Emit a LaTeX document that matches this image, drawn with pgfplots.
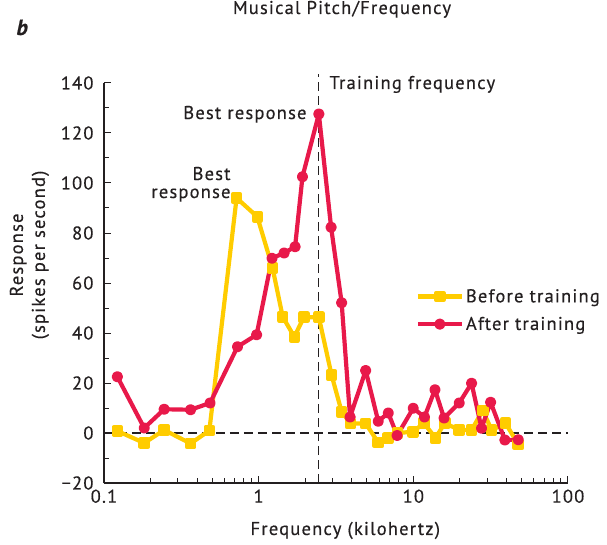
\documentclass[border=0pt]{standalone}
\usepackage{fontspec}
\setmainfont{PT Sans}[LetterSpace=6.5, FakeBold=0.4]
\usepackage{pgfplots}
\pgfplotsset{compat=1.18}
\definecolor{gold}{HTML}{FFCC00}
\definecolor{crim}{HTML}{E8194A}
\definecolor{ink}{HTML}{231F20}
\begin{document}
\begin{tikzpicture}[font=\fontsize{18.5}{22}\selectfont]
\begin{axis}[name=ax, scale only axis, width=464pt, height=400pt,
  xmode=log, xmin=0.1, xmax=100, ymin=-20, ymax=140,
  axis lines*=left, axis line style={ink, line width=1.1pt},
  xtick={0.1,1,10,100}, xticklabels={0.1,1,10,100},
  minor xtick={0.2,0.3,0.4,0.5,0.6,0.7,0.8,0.9,2,3,4,5,6,7,8,9,20,30,40,50,60,70,80,90},
  ytick={-20,0,20,40,60,80,100,120,140},
  yticklabels={−20,0,20,40,60,80,100,120,140},
  minor ytick={-10,10,30,50,70,90,110,130},
  tick align=inside, major tick length=7pt, minor tick length=5pt,
  tick style={ink, line width=1pt},
  ticklabel style={text=ink},
  yticklabel style={xshift=-7pt},
  xticklabel style={yshift=-3pt},
  xlabel={Frequency (kilohertz)},
  ylabel={Response\\(spikes per second)},
  ylabel style={align=center, text=ink, at={(ticklabel cs:0.57,5pt)}},
  xlabel style={text=ink, at={(ticklabel cs:0.52,12pt)}},
  clip=false,
  legend style={draw=none, fill=none, at={(rel axis cs:0.665,0.495)}, anchor=north west,
    row sep=9pt, text=ink, font=\fontsize{18.5}{22}\selectfont},
  legend cell align=left,
  legend image code/.code={\draw[mark repeat=2,mark phase=2] plot coordinates {(0pt,0pt)(22pt,0pt)(44pt,0pt)};},
]
\draw[ink, line width=1.1pt, dash pattern=on 9pt off 5pt] (axis cs:0.1,0) -- (axis cs:100,0);
\draw[ink, line width=1.1pt, dash pattern=on 9pt off 5pt] (axis cs:2.45,-20) -- (axis cs:2.45,143.5);
\addplot[gold, line width=4.2pt, line join=round, mark=square*, mark size=3.7pt, mark options={solid}] coordinates {
(0.122,0.8) (0.182,-4) (0.245,1.2) (0.363,-4.2) (0.48,1) (0.72,94) (0.98,86.5)
(1.23,66) (1.43,46.5) (1.70,38.5) (1.96,46.3) (2.45,46.3) (2.96,23.2) (3.44,8.5)
(3.93,3.8) (4.92,3.8) (5.93,-3.8) (6.89,-1.9) (7.9,0) (9.98,0.5) (11.7,4) (13.9,-2)
(16.0,4) (19.8,1.2) (23.8,1.2) (28.1,9) (32.1,1.2) (39.5,3.9) (47.7,-4.6)
};
\addlegendentry{Before training}
\addplot[crim, line width=4.2pt, line join=round, mark=*, mark size=3.5pt, mark options={solid}] coordinates {
(0.122,22.5) (0.182,2) (0.245,9.5) (0.363,9.3) (0.485,12) (0.73,34.5) (0.97,39.3)
(1.22,69.9) (1.46,72) (1.72,74.5) (1.92,102.5) (2.45,127.6) (2.94,82.3) (3.44,52.1)
(3.90,6.4) (4.92,25) (5.93,4.7) (6.89,8) (7.86,-1) (9.98,9.9) (11.8,6.4) (13.8,17.3)
(15.8,6) (19.8,12) (23.8,19.9) (27.6,1.9) (31.6,12.3) (39.1,-2.8) (47.7,-2.7)
};
\addlegendentry{After training}
\end{axis}
\node[anchor=base, text=ink] at ([shift={(238pt,469pt)}]ax.south west) {Musical Pitch/Frequency};
\node[anchor=base west, text=ink, font=\fontsize{22}{26}\selectfont\bfseries\itshape] at ([shift={(-91pt,448pt)}]ax.south west) {b};
\node[anchor=base west, text=ink] at ([shift={(222pt,394pt)}]ax.south west) {Training frequency};
\node[anchor=base east, text=ink] at ([shift={(206pt,364pt)}]ax.south west) {Best response};
\node[anchor=base east, text=ink] at ([shift={(130pt,303pt)}]ax.south west) {Best};
\node[anchor=base east, text=ink] at ([shift={(130pt,285pt)}]ax.south west) {response};
\pgfresetboundingbox
\path ([shift={(-104pt,-61pt)}]ax.south west) rectangle ++(607pt,544pt);
\end{tikzpicture}
\end{document}
